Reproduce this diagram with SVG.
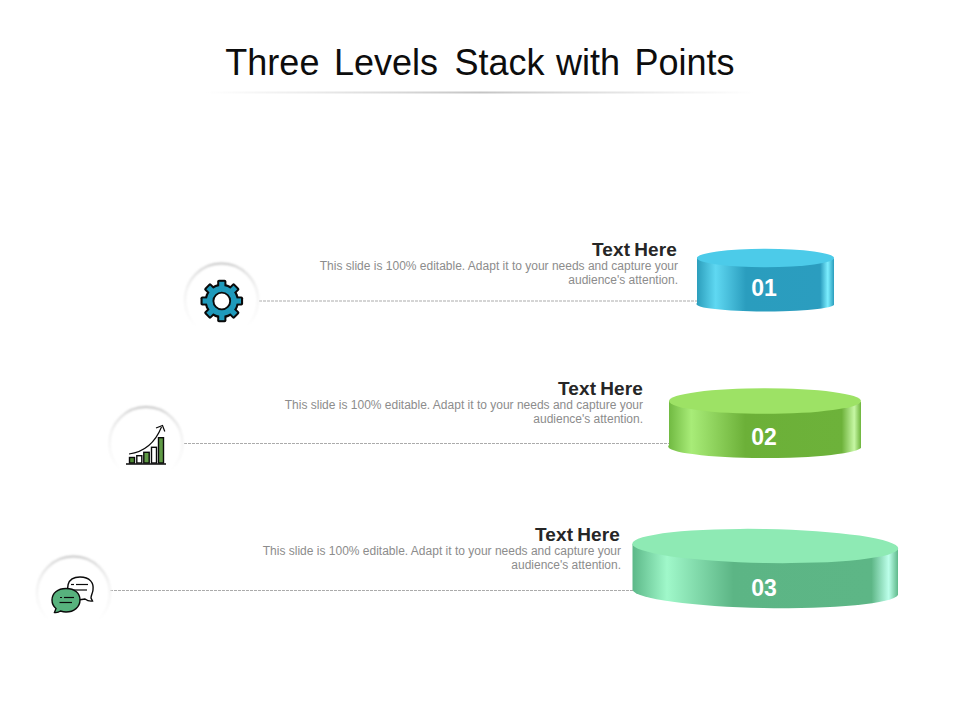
<svg xmlns="http://www.w3.org/2000/svg" xmlns:xlink="http://www.w3.org/1999/xlink" width="960" height="720" viewBox="0 0 960 720">
  <style>
    text { font-family: "Liberation Sans", Arial, sans-serif; }
    .title { font-size: 36px; fill: #0d0d0d; text-anchor: middle; word-spacing: 4.5px; }
    .head { font-size: 19px; font-weight: bold; fill: #262626; text-anchor: end; word-spacing: -1.500px; letter-spacing: 0.15px; }
    .body { font-size: 12px; fill: #8c8c8c; text-anchor: end; }
    .num { font-size: 23px; font-weight: bold; fill: #ffffff; text-anchor: middle; }
    .dash { stroke: #ababab; stroke-width: 1; stroke-dasharray: 3 1; fill: none; }
    .ring { fill: #ffffff; stroke: url(#ringStroke); stroke-width: 2.2; filter: url(#soft); }
    .ink { stroke: #0a0a0a; stroke-width: 1.4; }
    .thin { stroke: #0a0a0a; stroke-width: 1.2; fill: none; }
  </style>
  <defs>
    <linearGradient id="titleRule" x1="0" x2="1" y1="0" y2="0">
      <stop offset="0" stop-color="#d0d0d0" stop-opacity="0"/>
      <stop offset="0.5" stop-color="#c4c4c4"/>
      <stop offset="1" stop-color="#d0d0d0" stop-opacity="0"/>
    </linearGradient>
    <linearGradient id="ringStroke" x1="0" x2="0" y1="0" y2="1">
      <stop offset="0" stop-color="#c2c2c2"/>
      <stop offset="0.12" stop-color="#dedede"/>
      <stop offset="0.35" stop-color="#f0f0f0"/>
      <stop offset="0.7" stop-color="#f9f9f9"/>
      <stop offset="0.88" stop-color="#ffffff"/>
    </linearGradient>
    <filter id="soft" x="-10%" y="-10%" width="120%" height="120%"><feGaussianBlur stdDeviation="0.8"/></filter>
    <linearGradient id="side1" x1="0" x2="1" y1="0" y2="0">
      <stop offset="0" stop-color="#2a9cba"/>
      <stop offset="0.14" stop-color="#5fd8f2"/>
      <stop offset="0.36" stop-color="#2a9dbe"/>
      <stop offset="0.9" stop-color="#2b9dbf"/>
      <stop offset="0.955" stop-color="#7ceeff"/>
      <stop offset="1" stop-color="#2a9dbd"/>
    </linearGradient>
    <linearGradient id="side2" x1="0" x2="1" y1="0" y2="0">
      <stop offset="0" stop-color="#6fb840"/>
      <stop offset="0.12" stop-color="#a8ec78"/>
      <stop offset="0.4" stop-color="#6cb038"/>
      <stop offset="0.9" stop-color="#6db23a"/>
      <stop offset="0.965" stop-color="#c6f7a4"/>
      <stop offset="1" stop-color="#6db43c"/>
    </linearGradient>
    <linearGradient id="side3" x1="0" x2="1" y1="0" y2="0">
      <stop offset="0" stop-color="#5cb888"/>
      <stop offset="0.13" stop-color="#a0f8ca"/>
      <stop offset="0.38" stop-color="#5cb585"/>
      <stop offset="0.9" stop-color="#5db686"/>
      <stop offset="0.965" stop-color="#bcffea"/>
      <stop offset="1" stop-color="#5fb98a"/>
    </linearGradient>
    <rect id="toothK" x="-4.6" y="-21.3" width="9.2" height="8" rx="1.8"/>
    <rect id="toothB" x="-2.6" y="-19.2" width="5.2" height="7"/>
  </defs>

  <g id="title">
    <text class="title" x="480" y="75">Three Levels <tspan dx="2">Stack</tspan> <tspan dx="-3">with</tspan> Points</text>
    <rect x="205" y="91.5" width="550" height="2" fill="url(#titleRule)"/>
  </g>

  <g id="connectors">
    <line class="dash" x1="259" y1="301" x2="698" y2="301"/>
    <line class="dash" x1="184" y1="443.5" x2="670" y2="443.5"/>
    <line class="dash" x1="110" y1="590.5" x2="634" y2="590.5"/>
  </g>

  <g id="level-1">
    <g id="icon-gear">
      <circle class="ring" cx="221.5" cy="300" r="36.5"/>
      <g transform="translate(221.8 301)">
        <g fill="#0a0a0a">
          <circle r="17.2"/>
          <use xlink:href="#toothK"/>
          <use xlink:href="#toothK" transform="rotate(45)"/>
          <use xlink:href="#toothK" transform="rotate(90)"/>
          <use xlink:href="#toothK" transform="rotate(135)"/>
          <use xlink:href="#toothK" transform="rotate(180)"/>
          <use xlink:href="#toothK" transform="rotate(225)"/>
          <use xlink:href="#toothK" transform="rotate(270)"/>
          <use xlink:href="#toothK" transform="rotate(315)"/>
        </g>
        <g fill="#1f9abb">
          <circle r="15"/>
          <use xlink:href="#toothB"/>
          <use xlink:href="#toothB" transform="rotate(45)"/>
          <use xlink:href="#toothB" transform="rotate(90)"/>
          <use xlink:href="#toothB" transform="rotate(135)"/>
          <use xlink:href="#toothB" transform="rotate(180)"/>
          <use xlink:href="#toothB" transform="rotate(225)"/>
          <use xlink:href="#toothB" transform="rotate(270)"/>
          <use xlink:href="#toothB" transform="rotate(315)"/>
        </g>
        <circle r="8.4" fill="#ffffff" stroke="#0a0a0a" stroke-width="1.9"/>
      </g>
    </g>
    <text class="head" x="677" y="255.500">Text Here</text>
    <text class="body" x="678" y="270">This slide is 100% editable. Adapt it to your needs and capture your</text>
    <text class="body" x="678" y="284">audience's attention.</text>
    <g id="stack-1">
      <path d="M697,257.5 V303 A68.5,7.5 0 0 0 834,305 V258.5 Z" fill="url(#side1)"/>
      <ellipse cx="765.5" cy="258" rx="68.5" ry="9.2" fill="#4ccbe9"/>
      <text class="num" x="764" y="295.5">01</text>
    </g>
  </g>

  <g id="level-2">
    <g id="icon-chart">
      <circle class="ring" cx="146" cy="443.5" r="36.5"/>
      <g class="ink">
        <rect x="129.5" y="457.5" width="5" height="5.5" fill="#4f8a35"/>
        <rect x="136.8" y="455.7" width="5" height="7.3" fill="#ffffff"/>
        <rect x="143.8" y="452.3" width="5.4" height="10.7" fill="#5f9a45"/>
        <rect x="151.5" y="447.3" width="5" height="15.7" fill="#ffffff"/>
        <rect x="158.5" y="437.7" width="5" height="25.3" fill="#5f9a45"/>
      </g>
      <line x1="126" y1="464" x2="166" y2="464" stroke="#0a0a0a" stroke-width="1.3"/>
      <path class="thin" d="M129,454 C144,452 155,443 161.5,427"/>
      <path class="thin" d="M156,428 L162.5,425.5 L164.8,431.5"/>
    </g>
    <text class="head" x="643" y="394.500">Text Here</text>
    <text class="body" x="643" y="409">This slide is 100% editable. Adapt it to your needs and capture your</text>
    <text class="body" x="643" y="423">audience's attention.</text>
    <g id="stack-2">
      <path d="M669,401 V445 A96,11.5 0 0 0 861,448 V402 Z" fill="url(#side2)"/>
      <ellipse cx="765" cy="401" rx="96" ry="12.8" fill="#9de265"/>
      <text class="num" x="764" y="444.5">02</text>
    </g>
  </g>

  <g id="level-3">
    <g id="icon-chat">
      <circle class="ring" cx="73.5" cy="593" r="36.5"/>
      <g>
        <path d="M72,598 C65,590 66,577 80,577 C90,577 94,583 93,590 C92.500,594 91,595 91,598 L92.500,601 C89,601.500 87,600.500 85,599 C80,600 75,600 72,598 Z" fill="#ffffff" stroke="#0a0a0a" stroke-width="1.4"/>
        <line class="thin" x1="71" y1="584.500" x2="74" y2="584.500"/>
        <line class="thin" x1="76" y1="584.500" x2="88" y2="584.500"/>
        <line class="thin" x1="73" y1="590" x2="87" y2="590"/>
        <path d="M66,588.500 C75,588.500 80,593.500 80,600 C80,607 74,612 66,612 C63.500,612 62,611.500 60.500,611 C58.500,612.500 56.500,612.800 54.500,612.500 L56,608.500 C53.500,606.500 52,603.500 52,600 C52,593.500 57.500,588.500 66,588.500 Z" fill="#57b27d" stroke="#0a0a0a" stroke-width="1.4"/>
        <line class="thin" x1="60" y1="597.500" x2="62" y2="597.500"/>
        <line class="thin" x1="64" y1="597.500" x2="74" y2="597.500"/>
        <line class="thin" x1="59.500" y1="602.500" x2="72" y2="602.500"/>
      </g>
    </g>
    <text class="head" x="620" y="540.500">Text Here</text>
    <text class="body" x="621" y="555">This slide is 100% editable. Adapt it to your needs and capture your</text>
    <text class="body" x="621" y="569">audience's attention.</text>
    <g id="stack-3">
      <path d="M632.500,544 V590 A133,16.500 1 0 0 898,595 V549 Z" fill="url(#side3)"/>
      <ellipse cx="765.300" cy="546" rx="133" ry="17" fill="#8eeab4" transform="rotate(1 765.300 546)"/>
      <text class="num" x="764" y="596">03</text>
    </g>
  </g>
</svg>
